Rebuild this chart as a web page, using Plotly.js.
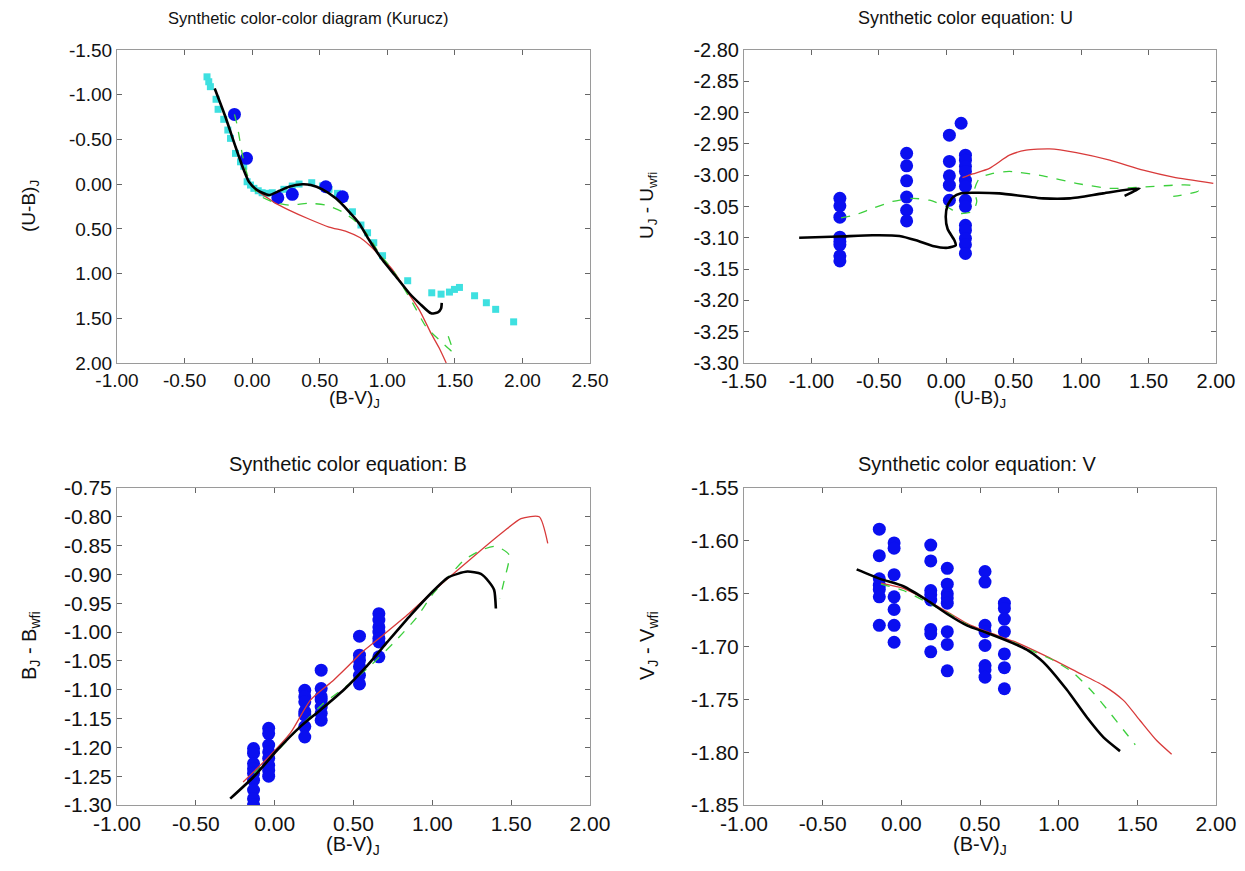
<!DOCTYPE html>
<html><head><meta charset="utf-8">
<script src="https://cdn.plot.ly/plotly-3.0.1.min.js"></script>
<style>html,body{margin:0;padding:0;background:#fff}#chart{width:1245px;height:871px}</style>
</head><body><div id="chart"></div>
<script>
// ---------- Panel 1: colour-colour diagram ----------
const p1CyanBV = [-0.334,-0.321,-0.309,-0.267,-0.252,-0.210,-0.180,-0.160,-0.123,-0.086,-0.062,-0.037,-0.012,0.013,0.045,0.074,0.104,0.149,0.235,0.297,0.347,0.441,0.520,0.569,0.631,0.681,0.742,0.805,0.854,0.900,0.965,1.151,1.329,1.398,1.460,1.497,1.534,1.646,1.733,1.802,1.935];
const p1CyanUB = [-1.20,-1.145,-1.09,-0.949,-0.837,-0.725,-0.605,-0.512,-0.344,-0.25,-0.20,-0.027,0.01,0.047,0.074,0.096,0.103,0.096,0.058,0.021,-0.001,-0.016,0.021,0.058,0.103,0.159,0.309,0.457,0.544,0.655,0.80,1.08,1.215,1.23,1.207,1.177,1.155,1.248,1.326,1.40,1.54];
const p1BlueBV = [-0.131,-0.042,0.19,0.297,0.545,0.668];
const p1BlueUB = [-0.78,-0.289,0.152,0.114,0.029,0.141];
const p1BlackBV = [-0.277,-0.198,-0.123,-0.062,-0.024,0.037,0.124,0.198,0.273,0.371,0.434,0.52,0.619,0.718,0.792,0.866,0.965,1.065,1.163,1.238,1.324,1.374,1.398,1.403];
const p1BlackUB = [-1.07,-0.754,-0.418,-0.158,-0.027,0.066,0.122,0.077,0.029,0.002,0.01,0.058,0.159,0.309,0.439,0.625,0.849,1.035,1.22,1.333,1.445,1.434,1.39,1.327];
const p1RedBV = [-0.277,-0.198,-0.123,-0.062,-0.024,0.04,0.10,0.174,0.273,0.42,0.569,0.70,0.80,0.866,0.94,1.04,1.139,1.238,1.324,1.386,1.436];
const p1RedUB = [-1.07,-0.754,-0.418,-0.158,-0.027,0.08,0.14,0.215,0.29,0.39,0.48,0.53,0.60,0.681,0.793,0.96,1.184,1.408,1.669,1.838,2.0];
const p1GreenBV = [-0.131,-0.111,-0.074,-0.05,-0.02,0.05,0.149,0.273,0.42,0.545,0.668,0.768,0.866,0.94,1.04,1.188,1.287,1.386,1.485,1.448];
const p1GreenUB = [-0.78,-0.661,-0.344,-0.18,-0.04,0.122,0.197,0.234,0.215,0.234,0.309,0.42,0.588,0.774,0.96,1.33,1.595,1.744,1.875,1.688];
const p1XTicks = [-1.0,-0.5,0.0,0.5,1.0,1.5,2.0,2.5];
const p1YTicks = [-1.5,-1.0,-0.5,0.0,0.5,1.0,1.5,2.0];

// ---------- Panel 2: colour equation U ----------
const p2BlueUB = [-0.789,-0.789,-0.789,-0.789,-0.789,-0.789,-0.789,-0.789,
  -0.294,-0.294,-0.294,-0.294,-0.294,-0.294,
  0.023,0.023,0.023,0.023,0.023,
  0.11,0.142,0.142,0.142,0.142,0.142,0.142,0.142,0.142,0.142,0.142,0.142,0.142,0.142];
const p2BlueDU = [-3.037,-3.049,-3.067,-3.099,-3.106,-3.111,-3.129,-3.137,
  -2.965,-2.985,-3.009,-3.035,-3.056,-3.073,
  -2.936,-2.978,-3.001,-3.016,-3.040,
  -2.917,-2.968,-2.976,-2.986,-2.994,-3.008,-3.018,-3.040,-3.050,-3.080,-3.088,-3.101,-3.111,-3.125];
const p2BlackUB = [-1.091,-0.794,-0.547,-0.348,-0.224,-0.101,0.011,0.07,0.06,0.01,-0.004,0.01,0.05,0.11,0.196,0.394,0.717,0.915,1.163,1.434,1.322];
const p2BlackDU = [-3.100,-3.098,-3.096,-3.097,-3.104,-3.113,-3.116,-3.112,-3.104,-3.086,-3.066,-3.048,-3.035,-3.029,-3.028,-3.029,-3.037,-3.037,-3.029,-3.021,-3.033];
const p2RedUB = [0.12,0.196,0.32,0.468,0.592,0.766,0.964,1.212,1.46,1.683,1.98];
const p2RedDU = [-3.004,-2.998,-2.989,-2.968,-2.96,-2.958,-2.964,-2.976,-2.992,-3.003,-3.013];
const p2GreenUB = [-0.78,-0.683,-0.547,-0.398,-0.249,-0.126,-0.001,0.099,0.196,0.226,0.208,0.246,0.345,0.468,0.717,0.964,1.212,1.46,1.683,1.806,1.868,1.683];
const p2GreenDU = [-3.068,-3.064,-3.053,-3.042,-3.037,-3.04,-3.050,-3.061,-3.058,-3.042,-3.024,-3.005,-2.997,-2.994,-3.001,-3.013,-3.021,-3.019,-3.016,-3.016,-3.025,-3.034];
const p2XTicks = [-1.5,-1.0,-0.5,0.0,0.5,1.0,1.5,2.0];
const p2YTicks = [-2.80,-2.85,-2.90,-2.95,-3.00,-3.05,-3.10,-3.15,-3.20,-3.25,-3.30];

// ---------- Panel 3: colour equation B ----------
const p3BlueBV = [-0.134,-0.134,-0.134,-0.134,-0.134,-0.134,-0.134,-0.134,-0.134,
  -0.038,-0.038,-0.038,-0.038,-0.038,-0.038,-0.038,-0.038,
  0.191,0.191,0.191,0.191,0.191,0.191,0.191,
  0.295,0.295,0.295,0.295,0.295,0.295,0.295,
  0.538,0.538,0.538,0.538,0.538,0.538,
  0.661,0.661,0.661,0.661,0.661,0.661,0.661];
const p3BlueDB = [-1.202,-1.21,-1.228,-1.237,-1.245,-1.257,-1.274,-1.289,-1.30,
  -1.167,-1.176,-1.196,-1.208,-1.219,-1.231,-1.240,-1.250,
  -1.101,-1.112,-1.121,-1.138,-1.144,-1.164,-1.182,
  -1.066,-1.098,-1.112,-1.118,-1.130,-1.141,-1.153,
  -1.007,-1.040,-1.049,-1.060,-1.075,-1.090,
  -0.968,-0.979,-0.991,-1.0,-1.011,-1.017,-1.043];
const p3BlackBV = [-0.282,-0.133,0.015,0.163,0.291,0.439,0.587,0.715,0.864,0.99,1.096,1.16,1.223,1.308,1.36,1.392,1.403];
const p3BlackDB = [-1.289,-1.251,-1.205,-1.164,-1.135,-1.100,-1.058,-1.017,-0.970,-0.933,-0.906,-0.899,-0.895,-0.899,-0.913,-0.927,-0.959];
const p3RedBV = [-0.20,-0.05,0.10,0.227,0.375,0.503,0.545,0.693,0.842,0.99,1.15,1.308,1.45,1.562,1.678,1.732];
const p3RedDB = [-1.26,-1.22,-1.175,-1.118,-1.083,-1.049,-1.037,-1.004,-0.970,-0.933,-0.895,-0.858,-0.826,-0.803,-0.800,-0.846];
const p3GreenBV = [-0.13,-0.017,0.15,0.30,0.45,0.60,0.75,0.90,1.0,1.096,1.202,1.308,1.403,1.487,1.456,1.428];
const p3GreenDB = [-1.245,-1.216,-1.168,-1.126,-1.095,-1.06,-1.02,-0.975,-0.935,-0.906,-0.875,-0.858,-0.851,-0.866,-0.91,-0.942];
const p3XTicks = [-1.0,-0.5,0.0,0.5,1.0,1.5,2.0];
const p3YTicks = [-0.75,-0.80,-0.85,-0.90,-0.95,-1.00,-1.05,-1.10,-1.15,-1.20,-1.25,-1.30];

// ---------- Panel 4: colour equation V ----------
const p4BlueBV = [-0.140,-0.140,-0.140,-0.140,-0.140,-0.140,-0.140,
  -0.046,-0.046,-0.046,-0.046,-0.046,-0.046,-0.046,
  0.187,0.187,0.187,0.187,0.187,0.187,0.187,0.187,
  0.292,0.292,0.292,0.292,0.292,0.292,0.292,0.292,
  0.532,0.532,0.532,0.532,0.532,0.532,0.532,0.532,
  0.655,0.655,0.655,0.655,0.655,0.655,0.655];
const p4BlueDV = [-1.589,-1.614,-1.636,-1.642,-1.646,-1.653,-1.680,
  -1.602,-1.607,-1.632,-1.653,-1.665,-1.680,-1.696,
  -1.604,-1.619,-1.647,-1.651,-1.656,-1.684,-1.688,-1.705,
  -1.626,-1.641,-1.650,-1.654,-1.659,-1.686,-1.698,-1.723,
  -1.629,-1.639,-1.680,-1.686,-1.699,-1.718,-1.722,-1.729,
  -1.659,-1.664,-1.674,-1.686,-1.707,-1.720,-1.740];
const p4BlackBV = [-0.284,-0.135,0.013,0.161,0.289,0.416,0.543,0.712,0.797,0.882,0.924,1.052,1.179,1.285,1.39];
const p4BlackDV = [-1.627,-1.636,-1.643,-1.656,-1.669,-1.680,-1.687,-1.697,-1.703,-1.712,-1.718,-1.741,-1.767,-1.786,-1.799];
const p4RedBV = [-0.13,0.013,0.161,0.289,0.416,0.543,0.712,0.903,1.115,1.285,1.412,1.517,1.623,1.718];
const p4RedDV = [-1.640,-1.645,-1.656,-1.667,-1.678,-1.686,-1.695,-1.708,-1.724,-1.737,-1.751,-1.770,-1.789,-1.802];
const p4GreenBV = [-0.13,0.013,0.161,0.289,0.416,0.543,0.712,0.797,0.966,1.094,1.221,1.327,1.412,1.487];
const p4GreenDV = [-1.641,-1.647,-1.658,-1.668,-1.679,-1.687,-1.696,-1.702,-1.713,-1.725,-1.744,-1.763,-1.779,-1.793];
const p4XTicks = [-1.0,-0.5,0.0,0.5,1.0,1.5,2.0];
const p4YTicks = [-1.55,-1.60,-1.65,-1.70,-1.75,-1.80,-1.85];

const titles = ['Synthetic color-color diagram (Kurucz)','Synthetic color equation: U','Synthetic color equation: B','Synthetic color equation: V'];

// ---------- styles ----------
const FONT = 'Liberation Sans, Arial, Helvetica, sans-serif';
const BLUE = '#0a0ff0', CYAN = '#3ee0e0', RED = '#d83a3a', GREEN = '#3ccf3c';
const blueMarker = {color: BLUE, size: 13, symbol: 'circle'};

function pts(x, y, ax, marker) {
  return {x, y, xaxis: 'x'+ax, yaxis: 'y'+ax, mode: 'markers', type: 'scatter', marker, showlegend: false, hoverinfo: 'skip'};
}
function line(x, y, ax, color, width, dash) {
  return {x, y, xaxis: 'x'+ax, yaxis: 'y'+ax, mode: 'lines', type: 'scatter', showlegend: false, hoverinfo: 'skip',
          line: {color, width, dash: dash || 'solid', shape: 'spline', smoothing: 0.6}};
}

const data = [
  pts(p1CyanBV, p1CyanUB, '', {color: CYAN, size: 7, symbol: 'square'}),
  pts(p1BlueBV, p1BlueUB, '', blueMarker),
  line(p1RedBV, p1RedUB, '', RED, 1.3),
  line(p1GreenBV, p1GreenUB, '', GREEN, 1.3, 'dash'),
  line(p1BlackBV, p1BlackUB, '', '#000', 2.6),

  pts(p2BlueUB, p2BlueDU, '2', blueMarker),
  line(p2RedUB, p2RedDU, '2', RED, 1.3),
  line(p2GreenUB, p2GreenDU, '2', GREEN, 1.3, 'dash'),
  line(p2BlackUB, p2BlackDU, '2', '#000', 2.6),

  pts(p3BlueBV, p3BlueDB, '3', blueMarker),
  line(p3RedBV, p3RedDB, '3', RED, 1.3),
  line(p3GreenBV, p3GreenDB, '3', GREEN, 1.3, 'dash'),
  line(p3BlackBV, p3BlackDB, '3', '#000', 2.6),

  pts(p4BlueBV, p4BlueDV, '4', blueMarker),
  line(p4RedBV, p4RedDV, '4', RED, 1.3),
  line(p4GreenBV, p4GreenDV, '4', GREEN, 1.3, 'dash'),
  line(p4BlackBV, p4BlackDV, '4', '#000', 2.6)
];

const W = 1245, H = 871;
const colL = [117/W, 590/W], colR = [744/W, 1216/W];
const rowT = [1-363/H, 1-50/H], rowB = [1-805/H, 1-488/H];

function axis(domain, range, ticks, anchor, size) {
  return {domain, range, anchor, tickmode: 'array', tickvals: ticks, ticktext: ticks.map(v => v.toFixed(2)),
    showline: true, mirror: 'ticks', linecolor: '#9a9a9a', linewidth: 1, ticks: 'inside', ticklen: 5,
    tickcolor: '#666', tickwidth: 1, showgrid: false, zeroline: false, fixedrange: true,
    tickfont: {family: FONT, size: size, color: '#111'}};
}

const ann = [];
function addText(text, x, y, angle, size) {
  ann.push({text, x: x/W, y: 1-y/H, xref: 'paper', yref: 'paper', showarrow: false, textangle: angle || 0,
            xanchor: 'center', yanchor: 'middle', font: {family: FONT, size: size || 19, color: '#111'}});
}
addText(titles[0], 308, 18, 0, 16.5);
addText(titles[1], 965, 18, 0, 18);
addText(titles[2], 348, 464, 0, 20);
addText(titles[3], 977, 464, 0, 20);
addText('(B-V)<sub>J</sub>', 354, 399, 0, 19);
addText('(U-B)<sub>J</sub>', 980, 399, 0, 19);
addText('(B-V)<sub>J</sub>', 353, 845, 0, 20);
addText('(B-V)<sub>J</sub>', 980, 845, 0, 20);
addText('(U-B)<sub>J</sub>', 30, 206, -90, 19);
addText('U<sub>J</sub> - U<sub>wfi</sub>', 648, 206, -90, 19);
addText('B<sub>J</sub> - B<sub>wfi</sub>', 30, 646, -90, 20);
addText('V<sub>J</sub> - V<sub>wfi</sub>', 648, 646, -90, 20);

const layout = {
  width: W, height: H, margin: {l: 0, r: 0, t: 0, b: 0}, paper_bgcolor: '#fff', plot_bgcolor: '#fff',
  font: {family: FONT, color: '#111'}, showlegend: false,
  xaxis: axis(colL, [-1.0, 2.5], p1XTicks, 'y', 19),
  yaxis: axis(rowT, [2.0, -1.5], p1YTicks, 'x', 19),
  xaxis2: axis(colR, [-1.5, 2.0], p2XTicks, 'y2', 20),
  yaxis2: axis(rowT, [-3.30, -2.80], p2YTicks, 'x2', 20),
  xaxis3: axis(colL, [-1.0, 2.0], p3XTicks, 'y3', 21),
  yaxis3: axis(rowB, [-1.30, -0.75], p3YTicks, 'x3', 21),
  xaxis4: axis(colR, [-1.0, 2.0], p4XTicks, 'y4', 21),
  yaxis4: axis(rowB, [-1.85, -1.55], p4YTicks, 'x4', 21),
  annotations: ann
};

Plotly.newPlot('chart', data, layout, {displayModeBar: false, staticPlot: true});
</script></body></html>
